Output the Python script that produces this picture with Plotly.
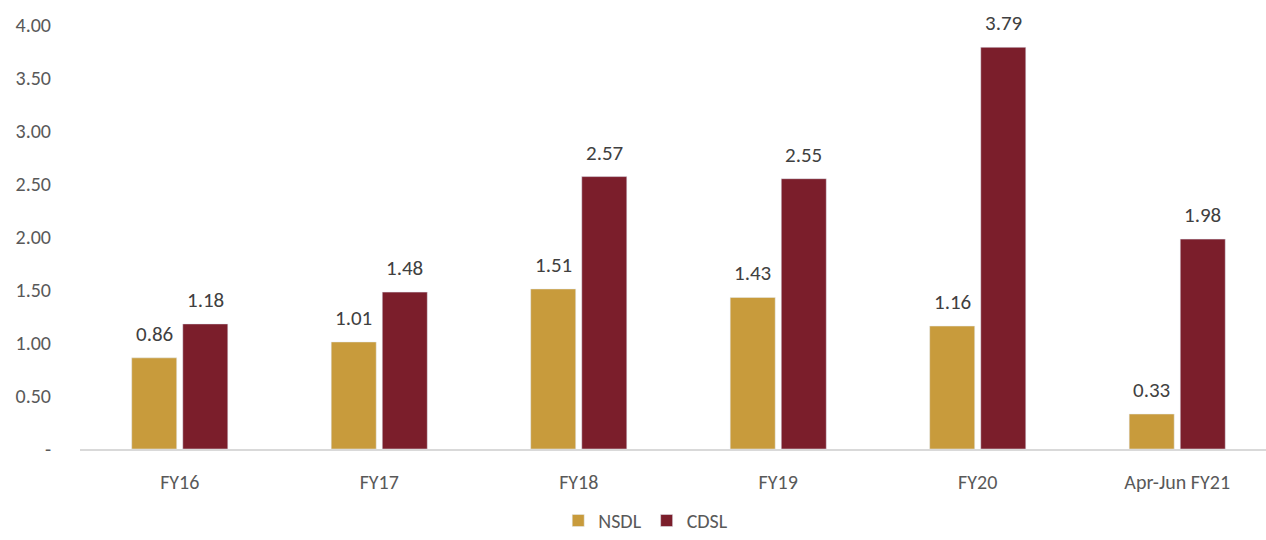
import plotly.graph_objects as go

categories = ["FY16", "FY17", "FY18", "FY19", "FY20", "Apr-Jun FY21"]
nsdl = [0.86, 1.01, 1.51, 1.43, 1.16, 0.33]
cdsl = [1.18, 1.48, 2.57, 2.55, 3.79, 1.98]
ytick_vals = [0, 0.5, 1.0, 1.5, 2.0, 2.5, 3.0, 3.5, 4.0]
ytick_text = ["-", "0.50", "1.00", "1.50", "2.00", "2.50", "3.00", "3.50", "4.00"]

FONT = "Calibri, Carlito, Lato, sans-serif"
LABEL_SIZE = 21

fig = go.Figure()
fig.add_trace(go.Bar(name="NSDL", x=categories, y=nsdl, marker=dict(color="#C89B3C")))
fig.add_trace(go.Bar(name="CDSL", x=categories, y=cdsl, marker=dict(color="#7B1E2B")))

# value labels above bars
for series, shift in ((nsdl, -25.5), (cdsl, 25.5)):
    for c, v in zip(categories, series):
        fig.add_annotation(
            x=c, y=v, text=f"{v:.2f}", showarrow=False,
            xanchor="center", yanchor="bottom", xshift=shift, yshift=9,
            font=dict(size=LABEL_SIZE, color="#404040", family=FONT),
        )

fig.update_layout(
    width=1266, height=540,
    margin=dict(l=80, r=0, t=25, b=91),
    paper_bgcolor="white", plot_bgcolor="white",
    barmode="group", bargap=0.488, bargroupgap=0.118,
    font=dict(family=FONT, color="#595959", size=20),
    showlegend=True,
    legend=dict(orientation="h", x=0.477, xanchor="center",
                yref="container", y=-0.012, yanchor="bottom",
                font=dict(size=20, color="#595959"),
                traceorder="normal"),
)
fig.update_xaxes(
    range=[-0.5, 5.445], showline=True, linecolor="#D9D9D9", linewidth=2,
    showgrid=False, ticks="", tickfont=dict(size=20, color="#595959"),
    ticklabelstandoff=14, automargin=False,
)
fig.update_yaxes(
    range=[0, 4], tickvals=ytick_vals, ticktext=ytick_text,
    showgrid=False, zeroline=False, showline=False, ticks="",
    tickfont=dict(size=20, color="#595959"), ticklabelstandoff=28, automargin=False,
)

fig.write_html(
    "out.html",
    config={"displayModeBar": False},
    post_script="document.body.style.margin='0';document.body.style.overflow='hidden';",
)
